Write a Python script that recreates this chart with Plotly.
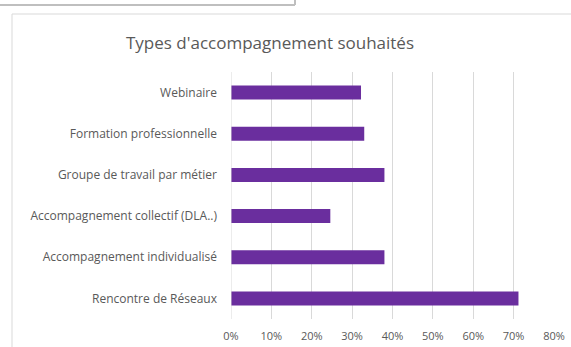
import plotly.graph_objects as go

categories = [
    "Webinaire",
    "Formation professionnelle",
    "Groupe de travail par métier",
    "Accompagnement collectif (DLA..)",
    "Accompagnement individualisé",
    "Rencontre de Réseaux",
]
values = [0.322, 0.33, 0.38, 0.246, 0.38, 0.712]
tick_vals = [0, 0.1, 0.2, 0.3, 0.4, 0.5, 0.6, 0.7, 0.8]
tick_text = ["0%", "10%", "20%", "30%", "40%", "50%", "60%", "70%", "80%"]
title_text = "Types d'accompagnement souhaités"

fig = go.Figure(
    go.Bar(
        x=values,
        y=categories,
        orientation="h",
        marker=dict(color="#6a2e9e", line=dict(width=0)),
        width=0.34,
    )
)

W, H = 571, 347
L, R, T, B = 231, 17, 72, 28
PW, PH = W - L - R, H - T - B


def px(x):
    return (x - L) / PW


def py(y):
    return 1 - (y - T) / PH


fig.update_layout(
    width=W,
    height=H,
    margin=dict(l=L, r=R, t=T, b=B, autoexpand=False),
    paper_bgcolor="white",
    plot_bgcolor="white",
    showlegend=False,
    font=dict(family="Open Sans, sans-serif", color="#595959"),
    title=dict(
        text=title_text,
        x=270 / W,
        xanchor="center",
        y=1 - 43 / H,
        yanchor="middle",
        font=dict(size=17, color="#595959", family="Open Sans, sans-serif"),
    ),
    xaxis=dict(
        range=[0, 0.8],
        tickvals=tick_vals,
        ticktext=tick_text,
        showgrid=True,
        gridcolor="#d9d9d9",
        gridwidth=1,
        zeroline=False,
        showline=False,
        tickfont=dict(size=11, color="#595959"),
        ticks="",
        ticklabelstandoff=9,
        automargin=False,
        fixedrange=True,
    ),
    yaxis=dict(
        categoryorder="array",
        categoryarray=categories,
        autorange="reversed",
        showgrid=False,
        zeroline=False,
        showline=False,
        ticks="",
        tickfont=dict(size=12, color="#595959"),
        ticklabelstandoff=13,
        automargin=False,
        fixedrange=True,
    ),
    shapes=[
        # outer chart frame (top and left edges visible)
        dict(type="line", xref="paper", yref="paper",
             x0=px(12), x1=1.2, y0=py(14), y1=py(14),
             line=dict(color="#d9d9d9", width=1)),
        dict(type="line", xref="paper", yref="paper",
             x0=px(12), x1=px(12), y0=py(14), y1=-0.5,
             line=dict(color="#d9d9d9", width=1)),
        # cropped box above
        dict(type="line", xref="paper", yref="paper",
             x0=px(0), x1=px(295), y0=py(5), y1=py(5),
             line=dict(color="#bfbfbf", width=2)),
        dict(type="line", xref="paper", yref="paper",
             x0=px(295), x1=px(295), y0=py(5), y1=1.5,
             line=dict(color="#bfbfbf", width=2)),
        # axis line at 0
        dict(type="line", xref="x", yref="paper", x0=0, x1=0, y0=0, y1=1,
             line=dict(color="#d9d9d9", width=1)),
    ],
)

fig.write_html("out.html")
